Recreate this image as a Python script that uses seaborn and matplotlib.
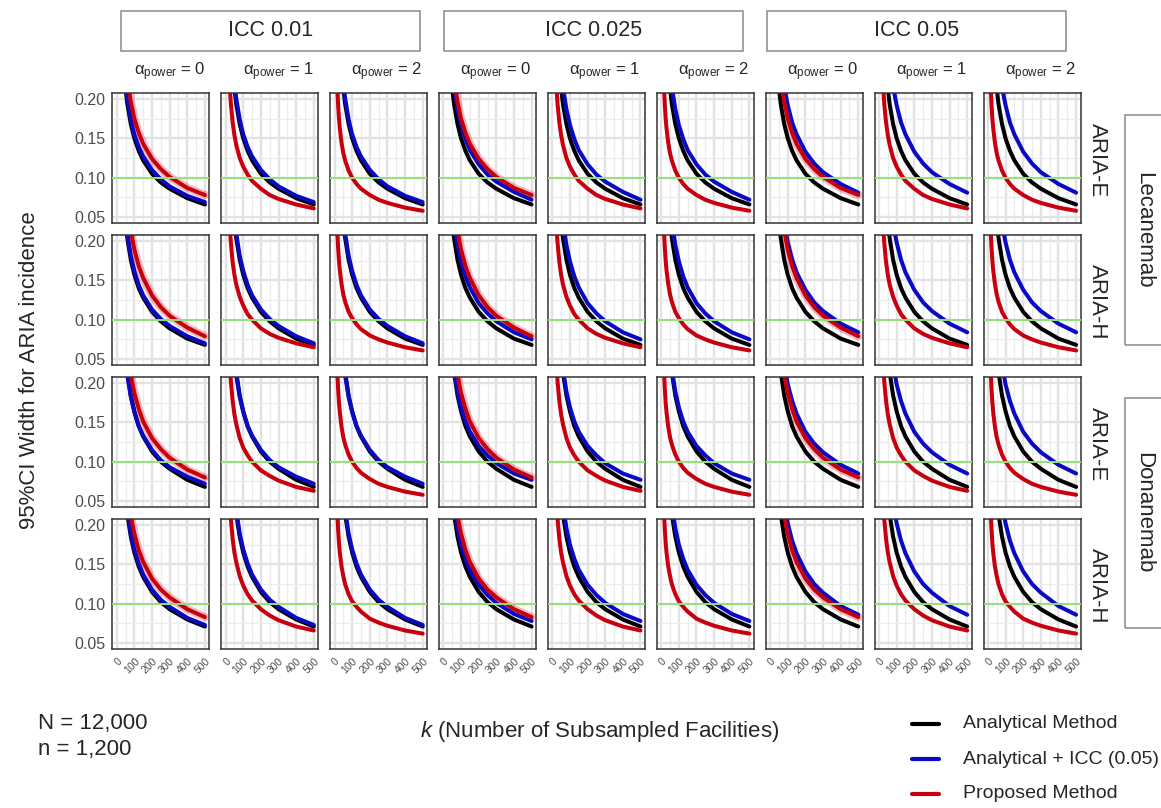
import pandas as pd
import seaborn as sns
import matplotlib.pyplot as plt
from matplotlib.patches import Rectangle
from matplotlib.lines import Line2D

sns.set_style('white')
plt.rcParams['font.family'] = ['Liberation Sans', 'DejaVu Sans']
plt.rcParams['mathtext.fontset'] = 'custom'
plt.rcParams['mathtext.rm'] = 'Liberation Sans'
plt.rcParams['mathtext.it'] = 'Liberation Sans:italic'

# k grid (number of subsampled facilities) and 95% CI widths
K = [10, 15, 20, 25, 30, 40, 50, 60, 80, 100, 125, 150, 200, 250, 300, 400, 500]

# Lecanemab / ARIA-E
lec_e_analytical = [0.478, 0.390, 0.338, 0.302, 0.275, 0.238, 0.213, 0.194, 0.168, 0.150, 0.134, 0.122, 0.105, 0.094, 0.086, 0.074, 0.066]
lec_e_icc_001 = [0.493, 0.403, 0.349, 0.312, 0.284, 0.246, 0.220, 0.201, 0.174, 0.155, 0.139, 0.127, 0.110, 0.098, 0.089, 0.077, 0.069]
lec_e_icc_0025 = [0.535, 0.436, 0.377, 0.337, 0.307, 0.266, 0.237, 0.216, 0.187, 0.167, 0.149, 0.135, 0.117, 0.104, 0.095, 0.082, 0.072]
lec_e_icc_005 = [0.624, 0.508, 0.439, 0.392, 0.357, 0.308, 0.274, 0.250, 0.215, 0.192, 0.170, 0.155, 0.133, 0.118, 0.107, 0.092, 0.081]
lec_e_prop_a0 = [0.554, 0.452, 0.392, 0.350, 0.320, 0.277, 0.248, 0.226, 0.196, 0.175, 0.157, 0.143, 0.124, 0.111, 0.101, 0.087, 0.078]
lec_e_prop_a1 = [0.322, 0.266, 0.233, 0.210, 0.193, 0.170, 0.154, 0.142, 0.125, 0.114, 0.104, 0.096, 0.086, 0.078, 0.073, 0.066, 0.061]
lec_e_prop_a2 = [0.264, 0.220, 0.194, 0.176, 0.163, 0.144, 0.131, 0.122, 0.109, 0.100, 0.092, 0.086, 0.078, 0.072, 0.068, 0.062, 0.058]

# Lecanemab / ARIA-H
lec_h_analytical = [0.506, 0.413, 0.357, 0.319, 0.290, 0.251, 0.224, 0.204, 0.176, 0.157, 0.140, 0.128, 0.110, 0.098, 0.089, 0.076, 0.068]
lec_h_icc_001 = [0.518, 0.422, 0.365, 0.326, 0.298, 0.257, 0.230, 0.210, 0.181, 0.162, 0.144, 0.131, 0.113, 0.101, 0.092, 0.079, 0.070]
lec_h_icc_0025 = [0.560, 0.456, 0.394, 0.352, 0.321, 0.277, 0.248, 0.226, 0.195, 0.174, 0.155, 0.141, 0.121, 0.108, 0.098, 0.084, 0.075]
lec_h_icc_005 = [0.641, 0.522, 0.451, 0.403, 0.367, 0.317, 0.283, 0.257, 0.222, 0.198, 0.176, 0.160, 0.138, 0.122, 0.111, 0.095, 0.084]
lec_h_prop_a0 = [0.618, 0.503, 0.435, 0.388, 0.353, 0.305, 0.271, 0.247, 0.213, 0.189, 0.168, 0.153, 0.131, 0.116, 0.105, 0.090, 0.079]
lec_h_prop_a1 = [0.325, 0.269, 0.236, 0.213, 0.197, 0.173, 0.157, 0.145, 0.129, 0.118, 0.107, 0.100, 0.089, 0.082, 0.077, 0.070, 0.065]
lec_h_prop_a2 = [0.261, 0.218, 0.193, 0.176, 0.163, 0.145, 0.132, 0.123, 0.110, 0.102, 0.094, 0.088, 0.080, 0.075, 0.071, 0.065, 0.061]

# Donanemab / ARIA-E
don_e_analytical = [0.537, 0.437, 0.377, 0.336, 0.306, 0.264, 0.235, 0.214, 0.184, 0.164, 0.145, 0.132, 0.113, 0.100, 0.091, 0.077, 0.068]
don_e_icc_001 = [0.518, 0.422, 0.366, 0.327, 0.298, 0.258, 0.231, 0.210, 0.182, 0.163, 0.145, 0.133, 0.115, 0.102, 0.093, 0.081, 0.072]
don_e_icc_0025 = [0.530, 0.433, 0.376, 0.336, 0.307, 0.266, 0.238, 0.218, 0.189, 0.169, 0.151, 0.138, 0.120, 0.108, 0.098, 0.085, 0.077]
don_e_icc_005 = [0.642, 0.523, 0.452, 0.403, 0.368, 0.318, 0.283, 0.258, 0.223, 0.198, 0.177, 0.161, 0.138, 0.123, 0.112, 0.096, 0.085]
don_e_prop_a0 = [0.606, 0.493, 0.426, 0.381, 0.347, 0.300, 0.267, 0.243, 0.210, 0.187, 0.167, 0.151, 0.130, 0.116, 0.105, 0.090, 0.080]
don_e_prop_a1 = [0.335, 0.277, 0.242, 0.219, 0.201, 0.177, 0.160, 0.148, 0.130, 0.118, 0.108, 0.100, 0.089, 0.082, 0.076, 0.068, 0.063]
don_e_prop_a2 = [0.264, 0.220, 0.194, 0.176, 0.163, 0.144, 0.131, 0.122, 0.109, 0.100, 0.092, 0.086, 0.078, 0.072, 0.068, 0.062, 0.058]

# Donanemab / ARIA-H
don_h_analytical = [0.533, 0.435, 0.376, 0.335, 0.306, 0.264, 0.235, 0.214, 0.185, 0.165, 0.147, 0.134, 0.115, 0.102, 0.093, 0.080, 0.071]
don_h_icc_001 = [0.544, 0.443, 0.383, 0.342, 0.312, 0.270, 0.241, 0.219, 0.189, 0.169, 0.151, 0.137, 0.118, 0.105, 0.096, 0.082, 0.073]
don_h_icc_0025 = [0.554, 0.452, 0.392, 0.350, 0.320, 0.277, 0.248, 0.226, 0.196, 0.175, 0.157, 0.143, 0.124, 0.111, 0.101, 0.087, 0.078]
don_h_icc_005 = [0.656, 0.535, 0.462, 0.412, 0.376, 0.324, 0.289, 0.263, 0.227, 0.202, 0.180, 0.164, 0.141, 0.125, 0.114, 0.097, 0.086]
don_h_prop_a0 = [0.604, 0.492, 0.426, 0.381, 0.347, 0.300, 0.268, 0.244, 0.211, 0.189, 0.168, 0.153, 0.132, 0.118, 0.108, 0.093, 0.083]
don_h_prop_a1 = [0.345, 0.285, 0.250, 0.225, 0.207, 0.182, 0.165, 0.153, 0.135, 0.123, 0.112, 0.104, 0.093, 0.085, 0.079, 0.071, 0.066]
don_h_prop_a2 = [0.266, 0.222, 0.196, 0.178, 0.165, 0.147, 0.135, 0.125, 0.112, 0.103, 0.096, 0.090, 0.081, 0.076, 0.072, 0.066, 0.062]

icc_labels = ['ICC 0.01', 'ICC 0.025', 'ICC 0.05']
alpha_values = [0, 1, 2]
drugs = ['Lecanemab', 'Donanemab']
aria_types = ['ARIA-E', 'ARIA-H']
methods = ['Analytical Method', 'Analytical + ICC (0.05)', 'Proposed Method']
colors = ['#000000', '#0a0ac4', '#c8000e']
target_width = 0.10

panel_rows = [
    (lec_e_analytical, [lec_e_icc_001, lec_e_icc_0025, lec_e_icc_005], [lec_e_prop_a0, lec_e_prop_a1, lec_e_prop_a2]),
    (lec_h_analytical, [lec_h_icc_001, lec_h_icc_0025, lec_h_icc_005], [lec_h_prop_a0, lec_h_prop_a1, lec_h_prop_a2]),
    (don_e_analytical, [don_e_icc_001, don_e_icc_0025, don_e_icc_005], [don_e_prop_a0, don_e_prop_a1, don_e_prop_a2]),
    (don_h_analytical, [don_h_icc_001, don_h_icc_0025, don_h_icc_005], [don_h_prop_a0, don_h_prop_a1, don_h_prop_a2]),
]

records = []
for r, (black, blues, reds) in enumerate(panel_rows):
    for i in range(3):
        for j in range(3):
            c = i * 3 + j
            for m, vals in zip(methods, [black, blues[i], reds[j]]):
                for k, w in zip(K, vals):
                    records.append(dict(row=r, col=c, alpha=alpha_values[j], method=m, k=k, width=w))
df = pd.DataFrame(records)

W, H = 1161, 808
fig = plt.figure(figsize=(W / 100, H / 100), dpi=100)


def axes_px(x, y, w, h):
    return fig.add_axes([x / W, 1 - (y + h) / H, w / W, h / H])


def text_px(x, y, s, **kw):
    fig.text(x / W, 1 - y / H, s, **kw)


def box_px(x, y, w, h):
    fig.add_artist(Rectangle((x / W, 1 - (y + h) / H), w / W, h / H, transform=fig.transFigure,
                             fill=False, ec='#8a8a8a', lw=1.1, clip_on=False))


grey = '#4d4d4d'
for r in range(4):
    for c in range(9):
        left = 112.3 + 108.9 * c
        top = 93 + 142 * r
        ax = axes_px(left, top, 97, 130)
        sub = df[(df['row'] == r) & (df['col'] == c)]
        if c % 3 == 0:
            halo = sub[sub['method'] == methods[2]]
            sns.lineplot(data=halo, x='k', y='width', color=colors[2], linewidth=6, alpha=0.25,
                         estimator=None, ax=ax)
        sns.lineplot(data=sub, x='k', y='width', hue='method', hue_order=methods, palette=colors,
                     linewidth=2.9, estimator=None, legend=False, ax=ax)
        ax.axhline(target_width, color='#96e07a', lw=1.4, zorder=5)
        ax.set_xlim(-25, 525)
        ax.set_ylim(0.0425, 0.2075)
        ax.set_xticks([0, 100, 200, 300, 400, 500])
        ax.set_xticks([50, 150, 250, 350, 450], minor=True)
        ax.set_yticks([0.05, 0.10, 0.15, 0.20])
        ax.set_yticks([0.075, 0.125, 0.175], minor=True)
        ax.grid(which='major', color='#e3e3e3', lw=1.7)
        ax.grid(which='minor', color='#ececec', lw=0.9)
        ax.set_axisbelow(True)
        for sp in ax.spines.values():
            sp.set_color('#333333')
            sp.set_linewidth(1.1)
        ax.set_xlabel('')
        ax.set_ylabel('')
        ax.tick_params(which='minor', length=0)
        ax.tick_params(which='major', color='#333333', width=1, length=3, pad=2)
        if r == 3:
            ax.set_xticklabels(['0', '100', '200', '300', '400', '500'], rotation=45,
                               ha='right', rotation_mode='anchor', fontsize=7.5, color=grey)
        else:
            ax.tick_params(axis='x', which='major', length=0, labelbottom=False)
        if c == 0:
            ax.set_yticklabels(['0.05', '0.10', '0.15', '0.20'], fontsize=11.5, color=grey)
        else:
            ax.tick_params(axis='y', which='major', length=0, labelleft=False)
        if r == 0:
            text_px(left + 57, 72, r'$\mathrm{\alpha}_{\mathrm{power}}$ = ' + str(alpha_values[c % 3]),
                    ha='center', va='center', fontsize=12)
        if c == 8:
            text_px(1097, top + 67, aria_types[r % 2], rotation=-90, ha='center', va='center', fontsize=16)

# column (ICC) strips
for i, lab in enumerate(icc_labels):
    x0 = 121 + 323 * i
    box_px(x0, 11, 299, 40)
    text_px(x0 + 149.5, 31, lab, ha='center', va='center', fontsize=15.5)

# row (drug) strips
for i, lab in enumerate(drugs):
    y0 = 115 + 283 * i
    box_px(1125, y0, 60, 230)
    text_px(1144, y0 + 115, lab, rotation=-90, ha='center', va='center', fontsize=16)

text_px(30, 370, '95%CI Width for ARIA incidence', rotation=90, ha='center', va='center', fontsize=16)
text_px(600, 732, r'$\mathit{k}$ (Number of Subsampled Facilities)', ha='center', va='center', fontsize=16)
text_px(38, 724, 'N = 12,000', ha='left', va='center', fontsize=16)
text_px(38, 750, 'n = 1,200', ha='left', va='center', fontsize=16)

for m, col, y in zip(methods, colors, [724, 759, 794]):
    fig.add_artist(Line2D([912 / W, 939 / W], [1 - y / H, 1 - y / H], color=col, lw=3,
                          transform=fig.transFigure))
    text_px(963, y, m, ha='left', va='center', fontsize=14)

fig.savefig('out.png', dpi=100)
